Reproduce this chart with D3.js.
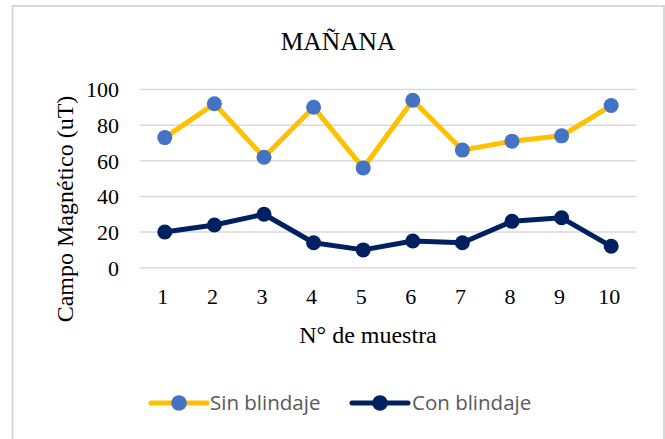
<!DOCTYPE html>
<html>
<head>
<meta charset="utf-8">
<script src="https://cdn.jsdelivr.net/npm/d3@7"></script>
<style>
    html, body { margin: 0; padding: 0; background: #fff; }
    svg { display: block; }
    .tick-label { font-family: "Liberation Serif", "Times New Roman", serif; font-size: 22px; fill: #000; }
</style>
</head>
<body>
<div id="chart"></div>
<script>
const muestras = ['1', '2', '3', '4', '5', '6', '7', '8', '9', '10'];
const sinBlindaje = [73, 92, 62, 90, 56, 94, 66, 71, 74, 91];
const conBlindaje = [20, 24, 30, 14, 10, 15, 14, 26, 28, 12];
const yTicks = [0, 20, 40, 60, 80, 100];

const series = [
    { name: 'Sin blindaje', values: sinBlindaje, line: '#FFC000', marker: '#4472C4' },
    { name: 'Con blindaje', values: conBlindaje, line: '#002060', marker: '#002060' },
];

const width = 665, height = 439;
const plot = { left: 140, right: 636, top: 89.5, bottom: 267.7 };

const svg = d3.select('#chart')
    .append('svg')
    .attr('width', width)
    .attr('height', height);

// chart frame
svg.append('rect')
    .attr('x', 12.5).attr('y', 6).attr('width', 651.5).attr('height', 440)
    .attr('fill', '#fff').attr('stroke', '#d9d9d9').attr('stroke-width', 2);

const x = d3.scaleBand().domain(muestras).range([plot.left, plot.right]);
const y = d3.scaleLinear().domain([0, 100]).range([plot.bottom, plot.top]);

// gridlines
svg.append('g')
    .selectAll('line')
    .data(yTicks)
    .join('line')
    .attr('x1', plot.left).attr('x2', plot.right)
    .attr('y1', d => y(d)).attr('y2', d => y(d))
    .attr('stroke', '#d9d9d9').attr('stroke-width', 1.5);

// y axis labels
const yAxis = svg.append('g')
    .attr('transform', `translate(${plot.left - 21},0)`)
    .call(d3.axisLeft(y).tickValues(yTicks).tickSize(0).tickPadding(0));
yAxis.select('.domain').remove();
yAxis.selectAll('text').attr('class', 'tick-label').attr('dy', '0.34em');

// x axis labels
const xAxis = svg.append('g')
    .attr('transform', `translate(-2,${plot.bottom})`)
    .call(d3.axisBottom(x).tickSize(0).tickPadding(21));
xAxis.select('.domain').remove();
xAxis.selectAll('text').attr('class', 'tick-label').attr('dy', '0.71em');

// series
const line = d3.line()
    .x((d, i) => x(muestras[i]) + x.bandwidth() / 2)
    .y(d => y(d));

series.forEach(s => {
    svg.append('path')
        .datum(s.values)
        .attr('d', line)
        .attr('fill', 'none')
        .attr('stroke', s.line)
        .attr('stroke-width', 5)
        .attr('stroke-linejoin', 'round');
    svg.append('g')
        .selectAll('circle')
        .data(s.values)
        .join('circle')
        .attr('cx', (d, i) => x(muestras[i]) + x.bandwidth() / 2)
        .attr('cy', d => y(d))
        .attr('r', 7.5)
        .attr('fill', s.marker);
});

// title
svg.append('text')
    .attr('x', 338).attr('y', 50)
    .attr('text-anchor', 'middle')
    .style('font-family', '"Liberation Serif", "Times New Roman", serif')
    .style('font-size', '25.5px')
    .text('MAÑANA');

// axis titles
svg.append('text')
    .attr('x', 368).attr('y', 343)
    .attr('text-anchor', 'middle')
    .style('font-family', '"Liberation Serif", "Times New Roman", serif')
    .style('font-size', '24px')
    .text('N° de muestra');

svg.append('text')
    .attr('transform', 'translate(73,209) rotate(-90)')
    .attr('text-anchor', 'middle')
    .style('font-family', '"Liberation Serif", "Times New Roman", serif')
    .style('font-size', '24px')
    .text('Campo Magnético (uT)');

// legend
const legendItems = [
    { s: series[0], x0: 151, textX: 210 },
    { s: series[1], x0: 352, textX: 412 },
];
const legend = svg.append('g').attr('transform', 'translate(0,403)');
legendItems.forEach(({ s, x0, textX }) => {
    legend.append('line')
        .attr('x1', x0).attr('x2', x0 + 56)
        .attr('stroke', s.line).attr('stroke-width', 5)
        .attr('stroke-linecap', 'round');
    legend.append('circle')
        .attr('cx', x0 + 28).attr('r', 7.8)
        .attr('fill', s.marker);
    legend.append('text')
        .attr('x', textX).attr('dy', '0.36em')
        .style('font-family', '"Open Sans", sans-serif')
        .style('font-size', '20.5px')
        .style('fill', '#595959')
        .text(s.name);
});
</script>
</body>
</html>
